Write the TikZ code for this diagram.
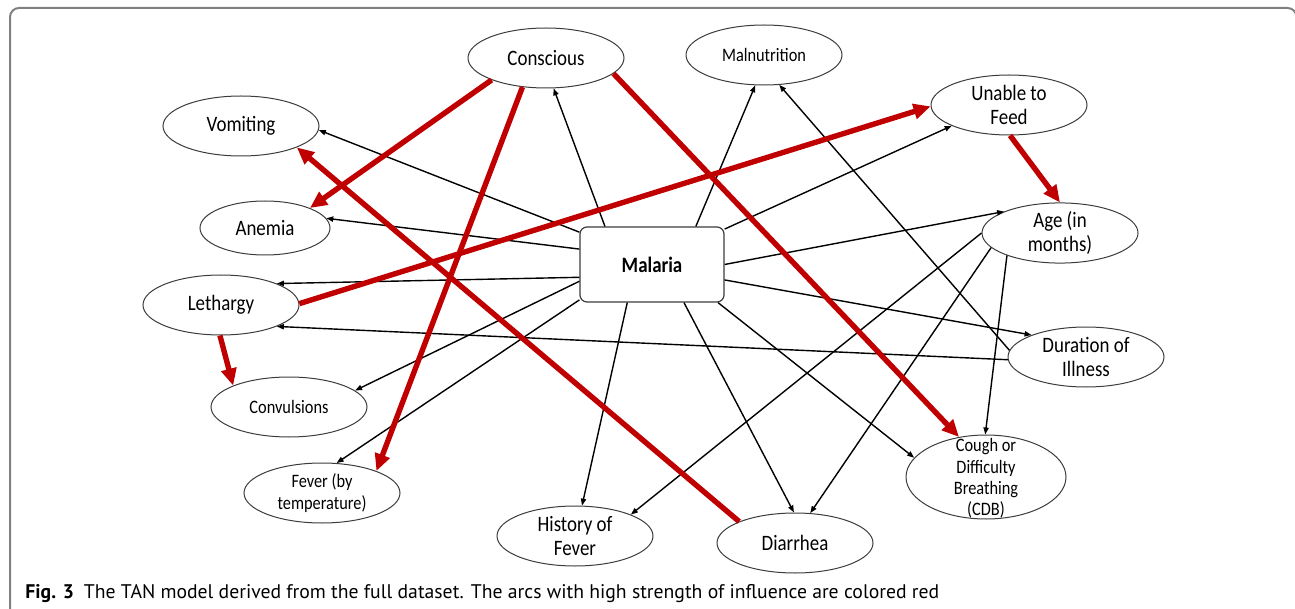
\documentclass[tikz,border=0pt]{standalone}
\usepackage{fontspec}
\usetikzlibrary{shapes.geometric,arrows.meta}
\newfontfamily\lblfont[FakeStretch=0.86]{Carlito}
\newfontfamily\capfont{PT Sans}
\definecolor{arcred}{RGB}{192,0,0}
\definecolor{rimgray}{RGB}{60,60,60}

\tikzset{
  var/.style={ellipse, draw=rimgray, line width=0.5pt, inner sep=0pt, align=center,
    minimum width=78pt, minimum height=30pt, font={\lblfont\fontsize{11}{11.7}\selectfont}},
  smallvar/.style={var, font={\lblfont\fontsize{9.5}{10.7}\selectfont}},
  arc/.style={-{Triangle[length=3.5pt,width=2.6pt]}, line width=0.7pt},
  strongarc/.style={-{Triangle[length=8.5pt,width=7.5pt]}, line width=2.7pt, arcred},
}

\begin{document}
\begin{tikzpicture}[x=0.5pt,y=-0.5pt]
\useasboundingbox (0,0) rectangle (1295,609);
\clip (0,0) rectangle (1295,609);
% frame
\draw[gray, line width=1pt, rounded corners=4.5pt] (10,640) -- (10,8) -- (1296.5,8) -- (1296.5,640);

% class node
\node[rectangle, rounded corners=3.5pt, draw=rimgray, line width=0.6pt, minimum width=72pt,
  minimum height=37.5pt, font={\lblfont\fontsize{11}{12}\selectfont\bfseries}] (mal) at (652,264.5) {Malaria};

% attributes
\node[var] (con) at (546,58) {Conscious};
\node[var] (vom) at (241,126) {Vomiting};
\node[var, minimum width=65pt, minimum height=27pt] (ane) at (265,228) {Anemia};
\node[var] (let) at (221,305) {Lethargy};
\node[smallvar] (cnv) at (289,407) {Convulsions};
\node[smallvar] (fev) at (322,493) {Fever (by\\temperature)};
\node[var] (hof) at (575,536) {History of\\Fever};
\node[var] (dia) at (795,543) {Diarrhea};
\node[smallvar, minimum width=80pt, minimum height=42pt] (cdb) at (986,477)
  {\smash{\raisebox{-3.5pt}{\begin{tabular}[c]{@{}c@{}}Cough or\\Difficulty\\Breathing\\(CDB)\end{tabular}}}};
\node[var] (dur) at (1086,357) {Duration of\\Illness};
\node[var] (age) at (1060,233) {Age (in\\months)};
\node[var] (unf) at (1009,105) {Unable to\\Feed};
\node[smallvar] (mln) at (764,55) {Malnutrition};

% arcs from the class
\draw[arc] (mal.141) -- (con.-76);
\draw[arc] (mal.156) -- (vom.-3);
\draw[arc] (mal.168) -- (ane.9);
\draw[arc] (mal.190) -- (let.21);
\draw[arc] (mal.193) -- (cnv.14);
\draw[arc] (mal.206) -- (fev.64);
\draw[arc] (mal.237) -- (hof.77);
\draw[arc] (mal.-50) -- (dia.92);
\draw[arc] (mal.-30) -- (cdb.165);
\draw[arc] (mal.-12) -- (dur.158);
\draw[arc] (mal.0) -- (age.159);
\draw[arc] (mal.26) -- (unf.200);
\draw[arc] (mal.41) -- (mln.254);

% tree arcs
\draw[arc] (dur.175) -- (mln.-63);
\draw[arc] (dur.182) -- (let.-21);
\draw[arc] (age.203) -- (cdb.91);
\draw[arc] (age.192) -- (dia.63);
\draw[arc] (age.180) -- (hof.21);

% strong arcs
\draw[strongarc] (con.202) -- (ane.24);
\draw[strongarc] (con.231) -- (fev.22);
\draw[strongarc] (con.-13) -- (cdb.124);
\draw[strongarc] (dia.159) -- (vom.-21);
\draw[strongarc] (let.1) -- (unf.181);
\draw[strongarc] (unf.-88) -- (age.90);
\draw[strongarc] (let.-92) -- (cnv.159);

% caption
\node[anchor=base west, inner sep=0pt, font={\capfont\fontsize{9.85}{12}\selectfont}] (cap) at (25,598)
  {\textbf{Fig. 3}\hspace{5pt}The TAN model derived from the full dataset. The arcs with high strength of influence are colored red};
\end{tikzpicture}
\end{document}
